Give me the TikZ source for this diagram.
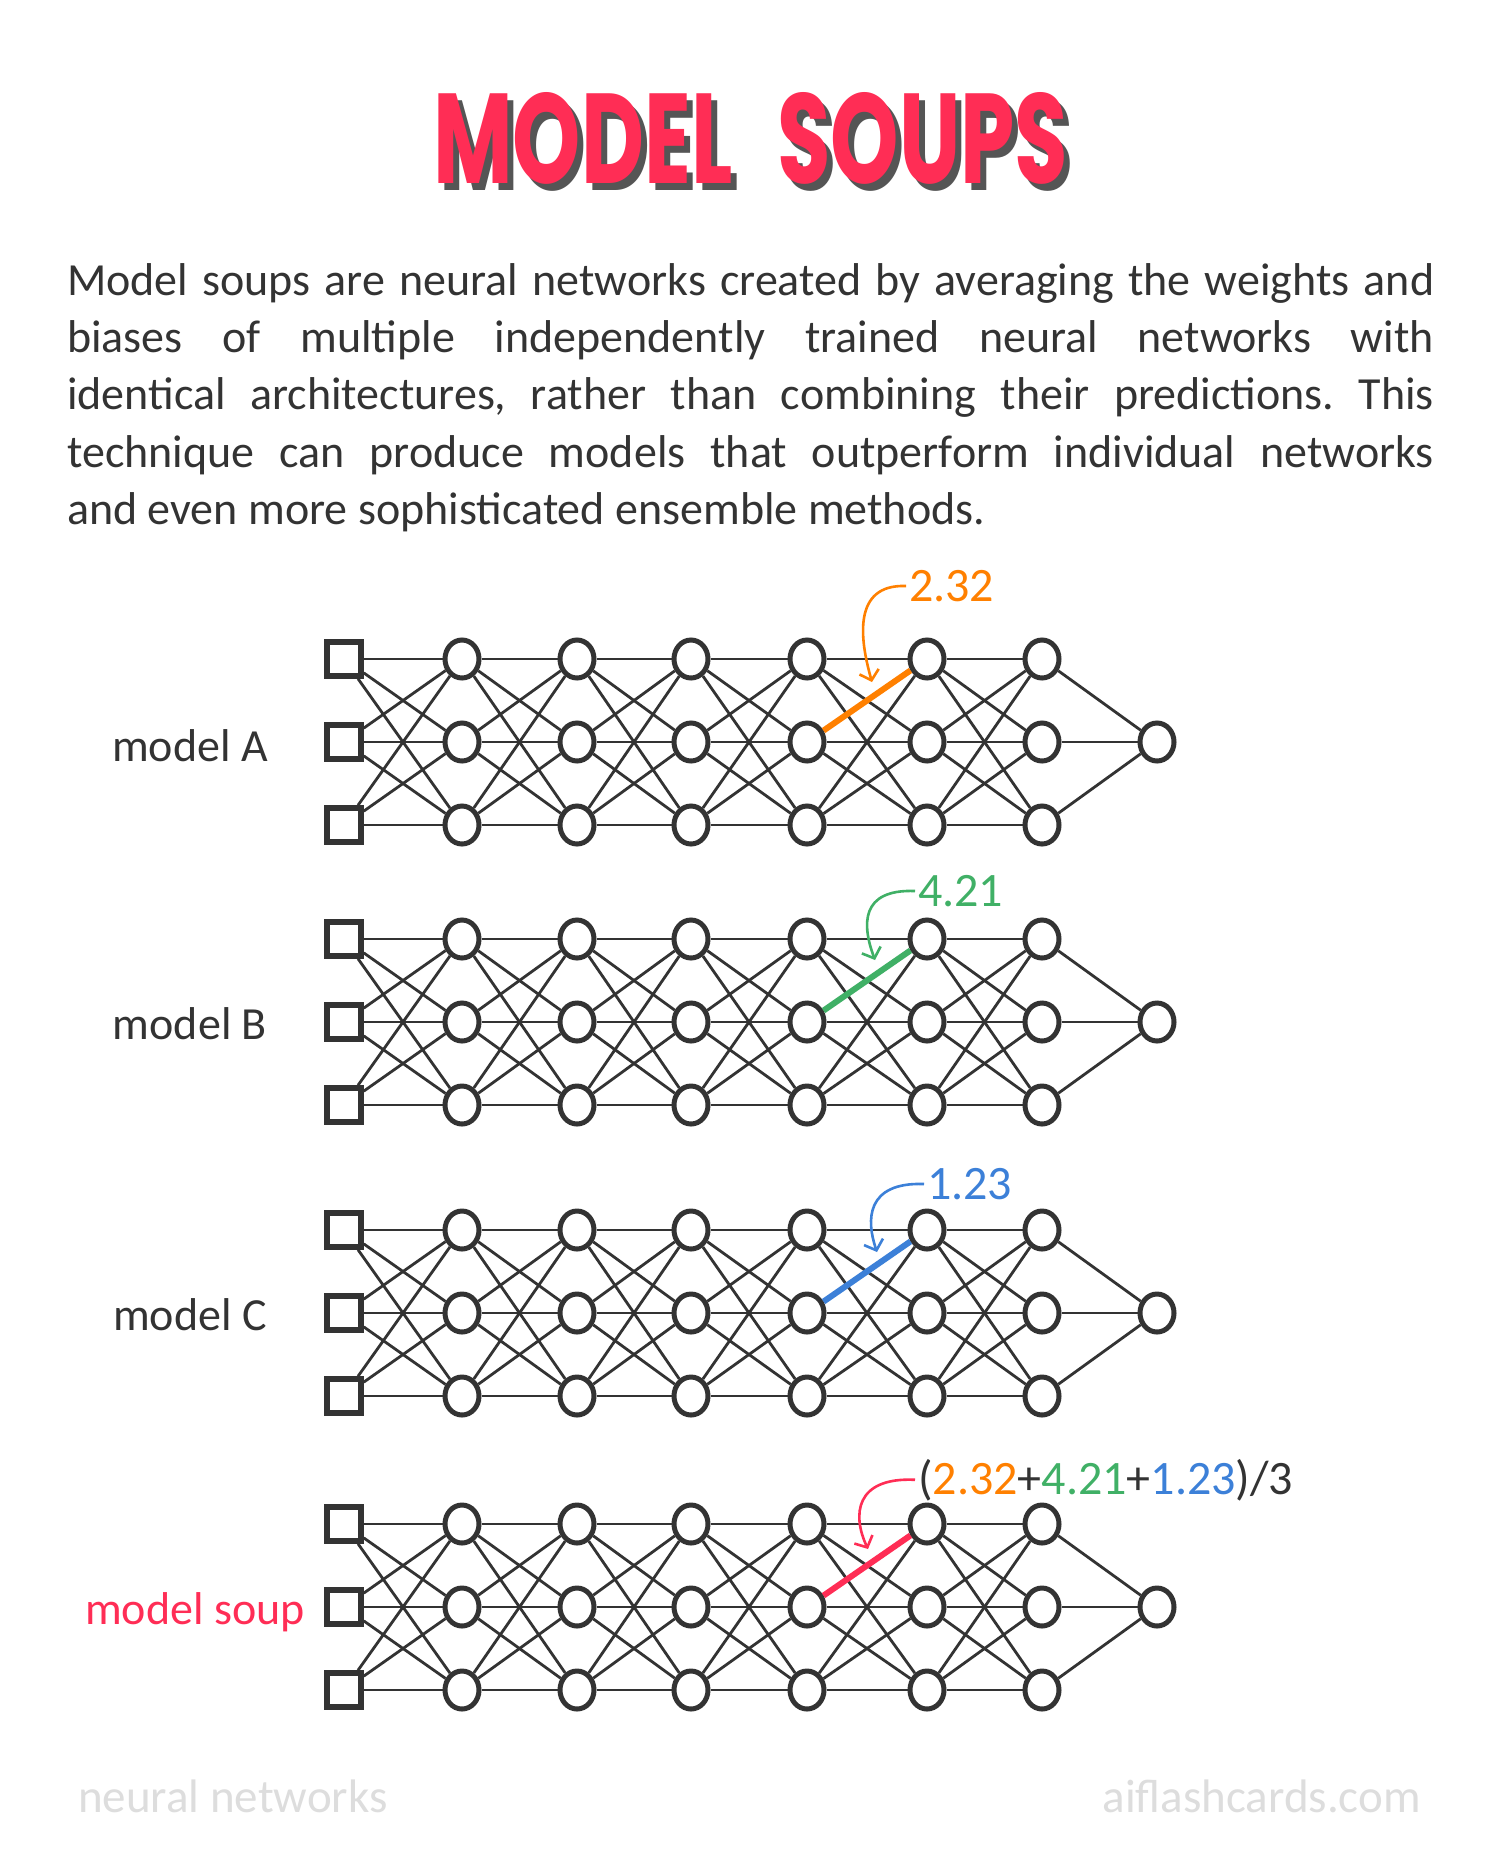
\documentclass[tikz,border=0pt]{standalone}
\usepackage{fontspec}
\setmainfont{Carlito}
\newfontfamily\titlefont{Poppins}
\usetikzlibrary{shapes.geometric,arrows.meta}
\definecolor{titlered}{HTML}{FF2D55}
\definecolor{shadowgray}{HTML}{555555}
\definecolor{dark}{HTML}{333333}
\definecolor{orng}{HTML}{FF8000}
\definecolor{grn}{HTML}{40B066}
\definecolor{blu}{HTML}{3C80D8}
\definecolor{footgray}{HTML}{DDDDDD}
\newcommand\shadowword[2]{% #1 width, #2 word
  \makebox[0pt][l]{\hspace{6pt}\raisebox{-7pt}{\textcolor{shadowgray}{\resizebox{#1}{91pt}{\titlefont\bfseries #2}}}}%
  \textcolor{titlered}{\resizebox{#1}{91pt}{\titlefont\bfseries #2}}}
\tikzset{
  insq/.style={draw=dark, fill=white, line width=5.5pt, minimum size=34pt, inner sep=0pt, shape=rectangle},
  neu/.style={draw=dark, fill=white, line width=5pt, ellipse, minimum width=34pt, minimum height=38pt, inner sep=0pt},
  edge/.style={draw=dark, line width=2.8pt},
  hl/.style={line width=6pt},
  annot/.style={line width=2.6pt, -{Straight Barb[length=9pt,width=20pt,line width=2.6pt]}},
  bodytext/.style={font=\fontsize{46}{57}\selectfont, text=dark, inner sep=0pt},
  numlab/.style={font=\fontsize{48}{57}\selectfont, inner sep=0pt},
  foot/.style={font=\fontsize{47}{57}\selectfont, text=footgray, inner sep=0pt}
}
\newcommand\mynet[2]{%
  \foreach \r in {0,1,2} {
    \node[insq] (#1-0-\r) at (344, {#2+\r*83}) {};
  }
  \foreach \c/\x in {1/462,2/577,3/691,4/807,5/927,6/1042} {
    \foreach \r in {0,1,2} {
      \node[neu] (#1-\c-\r) at (\x, {#2+\r*83}) {};
    }
  }
  \node[neu] (#1-out) at (1157, {#2+83}) {};
  \foreach \c [evaluate=\c as \n using int(\c+1)] in {0,...,5} {
    \foreach \r in {0,1,2} {
      \foreach \s in {0,1,2} {
        \draw[edge] (#1-\c-\r) -- (#1-\n-\s);
      }
    }
  }
  \foreach \r in {0,1,2} {
    \draw[edge] (#1-6-\r) -- (#1-out);
  }
}
\begin{document}
\frenchspacing
\begin{tikzpicture}[x=1pt,y=-1pt]
\useasboundingbox[fill=white] (0,0) rectangle (1500,1875);
% title
\node[anchor=base west, inner sep=0pt] (title1) at (433,183) {\shadowword{299pt}{MODEL}};
\node[anchor=base west, inner sep=0pt] (title2) at (777,183) {\shadowword{291pt}{SOUPS}};
% paragraph
\node[bodytext, anchor=base west] (p1) at (67,295) {\makebox[1367pt][s]{Model soups are neural networks created by averaging the weights and}};
\node[bodytext, anchor=base west] (p2) at (67,352) {\makebox[1367pt][s]{biases of multiple independently trained neural networks with}};
\node[bodytext, anchor=base west] (p3) at (67,409.5) {\makebox[1367pt][s]{identical architectures, rather than combining their predictions. This}};
\node[bodytext, anchor=base west] (p4) at (67,467) {\makebox[1367pt][s]{technique can produce models that outperform individual networks}};
\node[bodytext, anchor=base west] (p5) at (67,524) {and even more sophisticated ensemble methods.};
% networks
\mynet{A}{659}
\mynet{B}{939}
\mynet{C}{1230}
\mynet{S}{1524}
% highlighted weights
\draw[hl, orng] (A-4-1) -- (A-5-0);
\draw[hl, grn] (B-4-1) -- (B-5-0);
\draw[hl, blu] (C-4-1) -- (C-5-0);
\draw[hl, titlered] (S-4-1) -- (S-5-0);
% model labels
\node[bodytext, anchor=base] (mA) at (190,761) {model A};
\node[bodytext, anchor=base] (mB) at (190,1039) {model B};
\node[bodytext, anchor=base] (mC) at (190,1330) {model C};
\node[bodytext, anchor=base, text=titlered] (mS) at (195,1624) {model soup};
% value labels
\node[numlab, anchor=west, text=orng] (lA) at (909,586) {2.32};
\node[numlab, anchor=west, text=grn] (lB) at (918,891) {4.21};
\node[numlab, anchor=west, text=blu] (lC) at (927,1184) {1.23};
\node[numlab, anchor=base west, text=dark] (lS) at (918,1494) {(\textcolor{orng}{2.32}+\textcolor{grn}{4.21}+\textcolor{blu}{1.23})/3};
\coordinate (tA) at (872,682);
\coordinate (tB) at (875,960);
\coordinate (tC) at (877,1252);
\coordinate (tS) at (868,1549);
\draw[annot, orng] ([xshift=-3pt]lA.west) .. controls (852,584) and (860,640) .. (tA);
\draw[annot, grn] ([xshift=-3pt]lB.west) .. controls (860,889) and (862,925) .. (tB);
\draw[annot, blu] ([xshift=-3pt]lC.west) .. controls (866,1182) and (866,1220) .. (tC);
\draw[annot, titlered] ([xshift=-3pt]lS.west) .. controls (855,1477) and (852,1515) .. (tS);
% footer
\node[foot, anchor=base west] (f1) at (78,1812) {neural networks};
\node[foot, anchor=base east] (f2) at (1421,1812) {aiflashcards.com};
\end{tikzpicture}
\end{document}
